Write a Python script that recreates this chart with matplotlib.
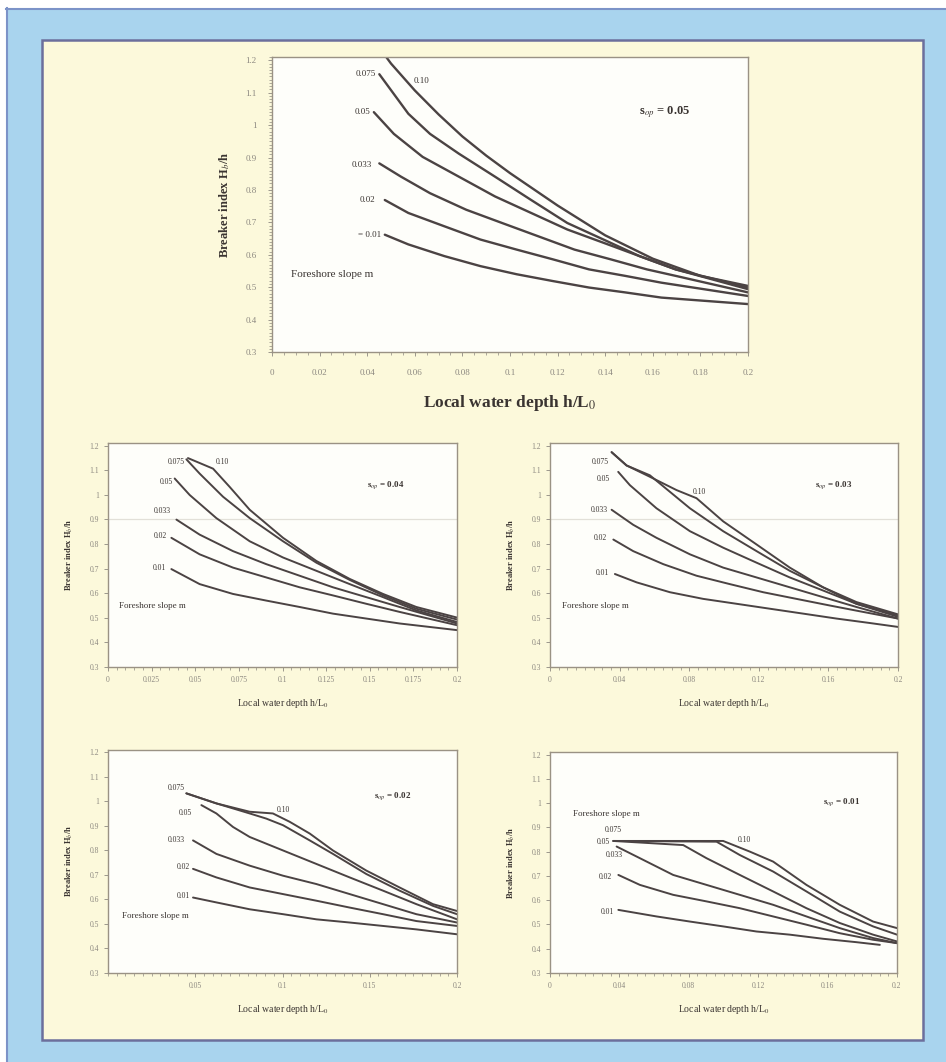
import numpy as np
import matplotlib.pyplot as plt
from matplotlib.patches import Rectangle
from matplotlib.ticker import MultipleLocator, FuncFormatter

plt.rcParams["font.family"] = ["Liberation Serif", "DejaVu Serif"]
plt.rcParams["mathtext.fontset"] = "stix"

slopes = ["0.10", "0.075", "0.05", "0.033", "0.02", "0.01"]

# breaker index curves, one list per foreshore slope (same order as slopes)
# s_op = 0.05
x05 = [[0.046, 0.050, 0.060, 0.070, 0.080, 0.090, 0.100, 0.120, 0.140, 0.160, 0.180, 0.200],
       [0.0451, 0.0481, 0.0573, 0.0664, 0.0785, 0.0937, 0.1089, 0.1241, 0.1393, 0.1544, 0.1696, 0.200],
       [0.0428, 0.0512, 0.0633, 0.0785, 0.0937, 0.1089, 0.1241, 0.1393, 0.1544, 0.1696, 0.200],
       [0.0451, 0.0542, 0.0664, 0.0816, 0.0967, 0.1119, 0.1271, 0.1423, 0.1575, 0.1696, 0.200],
       [0.0474, 0.0573, 0.0724, 0.0876, 0.1028, 0.1180, 0.1332, 0.1484, 0.1636, 0.200],
       [0.0474, 0.0573, 0.0724, 0.0876, 0.1028, 0.1180, 0.1332, 0.1484, 0.1636, 0.200]]
y05 = [[1.23, 1.19, 1.107, 1.033, 0.965, 0.906, 0.852, 0.752, 0.660, 0.588, 0.535, 0.504],
       [1.157, 1.127, 1.035, 0.973, 0.912, 0.841, 0.769, 0.698, 0.647, 0.596, 0.555, 0.499],
       [1.040, 0.973, 0.902, 0.841, 0.780, 0.729, 0.678, 0.637, 0.596, 0.555, 0.494],
       [0.882, 0.841, 0.790, 0.739, 0.698, 0.657, 0.616, 0.586, 0.555, 0.535, 0.484],
       [0.769, 0.729, 0.688, 0.647, 0.616, 0.586, 0.555, 0.535, 0.514, 0.473],
       [0.662, 0.632, 0.596, 0.565, 0.540, 0.519, 0.499, 0.484, 0.468, 0.448]]

# s_op = 0.04
x04 = [[0.0458, 0.0602, 0.0697, 0.0812, 0.1003, 0.1194, 0.1385, 0.1576, 0.1767, 0.200],
       [0.0449, 0.0525, 0.0659, 0.0812, 0.1003, 0.1194, 0.1385, 0.1576, 0.1767, 0.200],
       [0.0382, 0.0468, 0.0621, 0.0812, 0.1003, 0.1194, 0.1385, 0.1576, 0.1767, 0.200],
       [0.0392, 0.0525, 0.0716, 0.0907, 0.1098, 0.1289, 0.1480, 0.1671, 0.200],
       [0.0363, 0.0525, 0.0716, 0.0907, 0.1098, 0.1289, 0.1480, 0.1671, 0.200],
       [0.0363, 0.0525, 0.0716, 0.0907, 0.1098, 0.1289, 0.1480, 0.1671, 0.200]]
y04 = [[1.149, 1.106, 1.032, 0.939, 0.825, 0.731, 0.658, 0.597, 0.544, 0.501],
       [1.144, 1.086, 0.992, 0.905, 0.811, 0.724, 0.654, 0.591, 0.537, 0.493],
       [1.066, 0.999, 0.905, 0.811, 0.745, 0.691, 0.637, 0.584, 0.530, 0.483],
       [0.899, 0.838, 0.771, 0.718, 0.671, 0.624, 0.584, 0.544, 0.477],
       [0.825, 0.758, 0.704, 0.664, 0.624, 0.591, 0.557, 0.524, 0.470],
       [0.698, 0.637, 0.597, 0.570, 0.544, 0.517, 0.497, 0.477, 0.450]]

# s_op = 0.03
x03 = [[0.0354, 0.0440, 0.0574, 0.0727, 0.0842, 0.0995, 0.1187, 0.1378, 0.1569, 0.1761, 0.200],
       [0.0354, 0.0440, 0.0574, 0.0689, 0.0804, 0.0995, 0.1187, 0.1378, 0.1569, 0.1761, 0.200],
       [0.0392, 0.0459, 0.0612, 0.0804, 0.0995, 0.1187, 0.1378, 0.1569, 0.1761, 0.200],
       [0.0354, 0.0478, 0.0612, 0.0804, 0.0995, 0.1187, 0.1378, 0.1569, 0.1761, 0.200],
       [0.0364, 0.0478, 0.0651, 0.0842, 0.1033, 0.1225, 0.1416, 0.1608, 0.1799, 0.200],
       [0.0373, 0.0498, 0.0689, 0.0880, 0.1072, 0.1263, 0.1455, 0.1646, 0.1837, 0.200]]
y03 = [[1.173, 1.119, 1.073, 1.019, 0.986, 0.892, 0.798, 0.704, 0.624, 0.557, 0.510],
       [1.173, 1.119, 1.079, 1.012, 0.945, 0.852, 0.771, 0.691, 0.624, 0.564, 0.514],
       [1.093, 1.039, 0.945, 0.852, 0.785, 0.724, 0.664, 0.611, 0.557, 0.504],
       [0.939, 0.878, 0.825, 0.758, 0.704, 0.664, 0.624, 0.584, 0.544, 0.497],
       [0.818, 0.771, 0.718, 0.671, 0.637, 0.604, 0.577, 0.550, 0.524, 0.497],
       [0.678, 0.644, 0.604, 0.577, 0.557, 0.537, 0.517, 0.497, 0.479, 0.463]]

# s_op = 0.02
x02 = [[0.0449, 0.0621, 0.0812, 0.0945, 0.1041, 0.1156, 0.1289, 0.1480, 0.1671, 0.1862, 0.200],
       [0.0449, 0.0621, 0.0812, 0.0907, 0.1003, 0.1156, 0.1289, 0.1480, 0.1671, 0.1862, 0.200],
       [0.0535, 0.0621, 0.0716, 0.0812, 0.1003, 0.1194, 0.1385, 0.1576, 0.1767, 0.200],
       [0.0487, 0.0621, 0.0812, 0.1003, 0.1194, 0.1385, 0.1576, 0.1767, 0.200],
       [0.0487, 0.0621, 0.0812, 0.1003, 0.1194, 0.1385, 0.1576, 0.1767, 0.200],
       [0.0487, 0.0621, 0.0812, 0.1003, 0.1194, 0.1385, 0.1576, 0.1767, 0.200]]
y02 = [[1.033, 0.992, 0.958, 0.951, 0.917, 0.869, 0.800, 0.718, 0.649, 0.581, 0.553],
       [1.033, 0.992, 0.951, 0.930, 0.903, 0.841, 0.786, 0.704, 0.636, 0.574, 0.540],
       [0.985, 0.951, 0.896, 0.855, 0.800, 0.745, 0.690, 0.636, 0.581, 0.519],
       [0.841, 0.786, 0.738, 0.697, 0.663, 0.622, 0.581, 0.540, 0.506],
       [0.725, 0.690, 0.649, 0.622, 0.595, 0.567, 0.540, 0.512, 0.492],
       [0.608, 0.588, 0.560, 0.540, 0.519, 0.506, 0.492, 0.478, 0.458]]

# s_op = 0.01
x01 = [[0.0365, 0.0998, 0.1152, 0.1286, 0.1478, 0.1670, 0.1862, 0.200],
       [0.0365, 0.0960, 0.1094, 0.1286, 0.1478, 0.1670, 0.1862, 0.200],
       [0.0365, 0.0768, 0.0902, 0.1094, 0.1286, 0.1478, 0.1670, 0.1862, 0.200],
       [0.0384, 0.0518, 0.0710, 0.0902, 0.1094, 0.1286, 0.1478, 0.1670, 0.1862, 0.200],
       [0.0394, 0.0518, 0.0710, 0.0902, 0.1094, 0.1286, 0.1478, 0.1670, 0.1862, 0.200],
       [0.0394, 0.0614, 0.0806, 0.0998, 0.1190, 0.1382, 0.1574, 0.1766, 0.1901]]
y01 = [[0.844, 0.844, 0.800, 0.759, 0.663, 0.581, 0.512, 0.485],
       [0.844, 0.841, 0.786, 0.718, 0.636, 0.553, 0.492, 0.458],
       [0.844, 0.827, 0.773, 0.704, 0.636, 0.567, 0.506, 0.458, 0.430],
       [0.821, 0.773, 0.704, 0.663, 0.622, 0.581, 0.533, 0.485, 0.444, 0.423],
       [0.704, 0.663, 0.622, 0.595, 0.567, 0.533, 0.499, 0.464, 0.437, 0.423],
       [0.560, 0.533, 0.512, 0.492, 0.471, 0.458, 0.441, 0.427, 0.416]]

y_ticks = [0.3, 0.4, 0.5, 0.6, 0.7, 0.8, 0.9, 1.0, 1.1, 1.2]

W, H = 946, 1062
fig = plt.figure(figsize=(W / 100, H / 100), dpi=100)

# page frame
bg = fig.add_axes([0, 0, 1, 1], zorder=-10)
bg.set_xlim(0, W)
bg.set_ylim(H, 0)
bg.axis("off")
bg.add_patch(Rectangle((6, 8), W - 6, H - 8, fc="#a9d4ee", ec="none"))
bg.plot([6, W], [8.5, 8.5], color="#7c93c8", lw=1.5)
bg.plot([6.5, 6.5], [8, H], color="#7c93c8", lw=1.5)
bg.add_patch(Rectangle((42, 40), 881, 1000, fc="#fcf9db", ec="#6c6f9c", lw=1.8))

line_c = "#4b4343"
text_c = "#3a3431"
tick_c = "#8c8880"


def fmt(v, pos):
    return "%g" % round(v, 3)


def panel(rect, xs, ys, s_op, labels, slope_pos, sop_pos, fore_pos, big=False, grid=False):
    ax = fig.add_axes(rect)
    ax.set_facecolor("#fefefa")
    if grid:
        ax.axhline(0.9, color="#e2e0d8", lw=0.9, zorder=0)
    for x, y in zip(xs, ys):
        ax.plot(x, y, color=line_c, lw=1.7 if big else 1.4, solid_capstyle="round")
    ax.set_xlim(0, 0.2)
    ax.set_ylim(0.3, 1.21)
    ax.set_yticks(y_ticks)
    ax.yaxis.set_major_formatter(FuncFormatter(fmt))
    ax.xaxis.set_major_formatter(FuncFormatter(fmt))
    fs_tick = 6.5 if big else 5.5
    ax.tick_params(colors=tick_c, labelsize=fs_tick, length=3, width=0.6)
    ax.tick_params(which="minor", colors=tick_c, length=2, width=0.5)
    ax.xaxis.set_minor_locator(MultipleLocator(0.005))
    if big:
        ax.yaxis.set_minor_locator(MultipleLocator(0.01))
        ax.tick_params(axis="x", pad=9)
        ax.tick_params(axis="y", pad=8)
    for sp in ax.spines.values():
        sp.set_color("#9a9284")
        sp.set_linewidth(1.0)
    fs_lab = 6.5 if big else 5.5
    for name, (px, py, ha) in zip(labels, slope_pos):
        ax.text(px, py, name, fontsize=fs_lab, color=text_c, ha=ha, va="center")
    ax.text(fore_pos[0], fore_pos[1], "Foreshore slope m", fontsize=8 if big else 6.5,
            color=text_c, ha="left", va="center")
    ax.text(sop_pos[0], sop_pos[1], "s$_{op}$ = " + s_op, fontsize=9 if big else 6.5,
            color=text_c, ha="center", va="center", fontweight="bold")
    return ax


lab05 = ["0.10", "0.075", "0.05", "0.033", "0.02", "= 0.01"]
pos05 = [(0.0595, 1.137, "left"), (0.0436, 1.157, "right"), (0.0413, 1.04, "right"),
         (0.042, 0.877, "right"), (0.0436, 0.769, "right"), (0.046, 0.662, "right")]
ax = panel([0.2875, 0.6685, 0.5032, 0.2778], x05, y05, "0.05", lab05, pos05,
           (0.165, 1.04), (0.008, 0.54), big=True)
ax.set_xticks(np.arange(0, 0.201, 0.02))
ax.set_ylabel("Breaker index H$_b$/h", fontsize=9, fontweight="bold", color=text_c, labelpad=10)
ax.set_xlabel("Local water depth h/L$_0$", fontsize=12.5, fontweight="bold", color=text_c, labelpad=12)

small_axes = []

pos04 = [(0.062, 1.133, "left"), (0.044, 1.133, "right"), (0.037, 1.053, "right"),
         (0.036, 0.932, "right"), (0.034, 0.832, "right"), (0.033, 0.704, "right")]
ax = panel([0.1142, 0.3719, 0.3689, 0.2109], x04, y04, "0.04", slopes, pos04,
           (0.159, 1.039), (0.006, 0.55), grid=True)
ax.set_xticks(np.arange(0, 0.201, 0.025))
small_axes.append(ax)

pos03 = [(0.082, 1.012, "left"), (0.034, 1.133, "right"), (0.0344, 1.066, "right"),
         (0.033, 0.939, "right"), (0.033, 0.825, "right"), (0.034, 0.684, "right")]
ax = panel([0.5814, 0.3719, 0.3679, 0.2109], x03, y03, "0.03", slopes, pos03,
           (0.163, 1.039), (0.007, 0.55), grid=True)
ax.set_xticks(np.arange(0, 0.201, 0.04))
small_axes.append(ax)

pos02 = [(0.0965, 0.964, "left"), (0.044, 1.053, "right"), (0.048, 0.951, "right"),
         (0.044, 0.841, "right"), (0.0468, 0.731, "right"), (0.0468, 0.615, "right")]
ax = panel([0.1142, 0.0838, 0.3689, 0.21], x02, y02, "0.02", slopes, pos02,
           (0.163, 1.02), (0.008, 0.533))
ax.set_xticks([0.05, 0.10, 0.15, 0.20])
small_axes.append(ax)

pos01 = [(0.108, 0.848, "left"), (0.0365, 0.889, "center"), (0.0345, 0.841, "right"),
         (0.042, 0.786, "right"), (0.036, 0.697, "right"), (0.037, 0.553, "right")]
ax = panel([0.5814, 0.0838, 0.3668, 0.208], x01, y01, "0.01", slopes, pos01,
           (0.168, 1.005), (0.013, 0.955))
ax.set_xticks(np.arange(0, 0.201, 0.04))
small_axes.append(ax)

for a in small_axes:
    a.set_ylabel("Breaker index H$_b$/h", fontsize=6, fontweight="bold", color=text_c, labelpad=10)
    a.set_xlabel("Local water depth h/L$_0$", fontsize=7, color=text_c, labelpad=9)

fig.savefig("out.png", dpi=100)
